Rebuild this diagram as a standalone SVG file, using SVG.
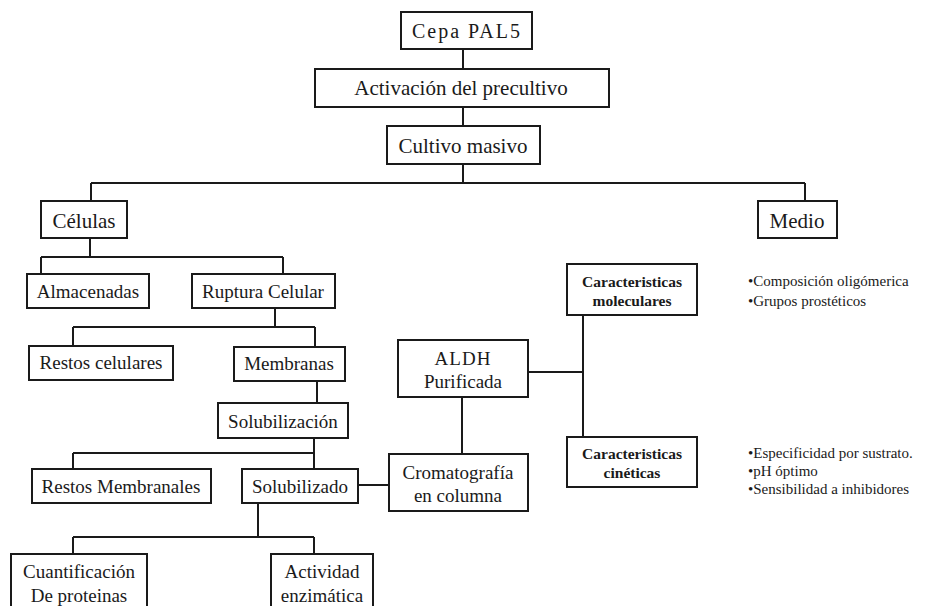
<svg xmlns="http://www.w3.org/2000/svg" width="926" height="606" viewBox="0 0 926 606">
<style>
.box{fill:#fff;stroke:#1a1a1a;stroke-width:2}
.t{font-family:"Liberation Serif","Times New Roman",serif;fill:#1a1a1a;text-anchor:middle}
.m{font-size:19px}
.b{font-size:15.5px;font-weight:bold}
.l{font-family:"Liberation Serif","Times New Roman",serif;fill:#1a1a1a;font-size:15px}
#connectors path{fill:none;stroke:#1a1a1a;stroke-width:2}
</style>
<rect width="926" height="606" fill="#fff"/>
<g id="connectors">
<path d="M463 49V69M463 107V126M463 164V183M91 183H805M91 183V201M805 183V201"/>
<path d="M90 238V257M41 257H283M41 257V274M283 257V274"/>
<path d="M275 308V327M73 327H315M73 327V346M315 327V347"/>
<path d="M317 381V403"/>
<path d="M314 438V453M73 453H314M73 453V469M314 453V469"/>
<path d="M358 485H389"/>
<path d="M258 503V537M73 537H314M73 537V553M314 537V553"/>
<path d="M462 397V454"/>
<path d="M528 372H583M583 315V437"/>
</g>
<g id="cepa"><rect class="box" x="401" y="12" width="131" height="37"/><text class="t" x="467" y="38" font-size="20" letter-spacing="2">Cepa PAL5</text></g>
<g id="activacion"><rect class="box" x="315" y="69" width="294" height="38"/><text class="t" x="461" y="95" font-size="21">Activación del  precultivo</text></g>
<g id="cultivo"><rect class="box" x="387" y="126" width="153" height="38"/><text class="t" x="463" y="153" font-size="21">Cultivo masivo</text></g>
<g id="celulas"><rect class="box" x="41" y="201" width="86" height="37"/><text class="t" x="84" y="228" font-size="21">Células</text></g>
<g id="medio"><rect class="box" x="758" y="201" width="79" height="37"/><text class="t" x="797" y="228" font-size="21">Medio</text></g>
<g id="almacenadas"><rect class="box" x="27" y="274" width="122" height="34"/><text class="t m" x="88" y="298">Almacenadas</text></g>
<g id="ruptura"><rect class="box" x="192" y="274" width="143" height="34"/><text class="t m" x="263" y="298">Ruptura Celular</text></g>
<g id="restos-celulares"><rect class="box" x="29" y="346" width="144" height="34"/><text class="t m" x="101" y="369">Restos celulares</text></g>
<g id="membranas"><rect class="box" x="234" y="347" width="111" height="34"/><text class="t m" x="289" y="370">Membranas</text></g>
<g id="solubilizacion"><rect class="box" x="218" y="403" width="130" height="35"/><text class="t m" x="283" y="428">Solubilización</text></g>
<g id="restos-membranales"><rect class="box" x="32" y="469" width="179" height="34"/><text class="t m" x="121" y="493">Restos Membranales</text></g>
<g id="solubilizado"><rect class="box" x="242" y="469" width="116" height="34"/><text class="t m" x="300" y="493">Solubilizado</text></g>
<g id="cromatografia"><rect class="box" x="389" y="454" width="139" height="57"/><text class="t m" x="458" y="479">Cromatografía</text><text class="t m" x="458" y="502">en columna</text></g>
<g id="aldh"><rect class="box" x="398" y="340" width="130" height="57"/><text class="t m" x="463" y="365" letter-spacing="1">ALDH</text><text class="t m" x="463" y="388">Purificada</text></g>
<g id="car-moleculares"><rect class="box" x="567" y="264" width="130" height="51"/><text class="t b" x="632" y="287">Caracteristicas</text><text class="t b" x="632" y="306">moleculares</text></g>
<g id="car-cineticas"><rect class="box" x="567" y="437" width="130" height="50"/><text class="t b" x="632" y="459">Caracteristicas</text><text class="t b" x="632" y="478">cinéticas</text></g>
<g id="cuantificacion"><rect class="box" x="11" y="554" width="136" height="60"/><text class="t m" x="79" y="578">Cuantificación</text><text class="t m" x="79" y="602">De proteinas</text></g>
<g id="actividad"><rect class="box" x="271" y="554" width="102" height="60"/><text class="t m" x="322" y="578">Actividad</text><text class="t m" x="322" y="602">enzimática</text></g>
<g id="lista-moleculares">
<text class="l" x="748" y="286">•Composición oligómerica</text>
<text class="l" x="748" y="306">•Grupos prostéticos</text>
</g>
<g id="lista-cineticas">
<text class="l" x="748" y="458">•Especificidad por sustrato.</text>
<text class="l" x="748" y="476">•pH óptimo</text>
<text class="l" x="748" y="494">•Sensibilidad a inhibidores</text>
</g>
</svg>
